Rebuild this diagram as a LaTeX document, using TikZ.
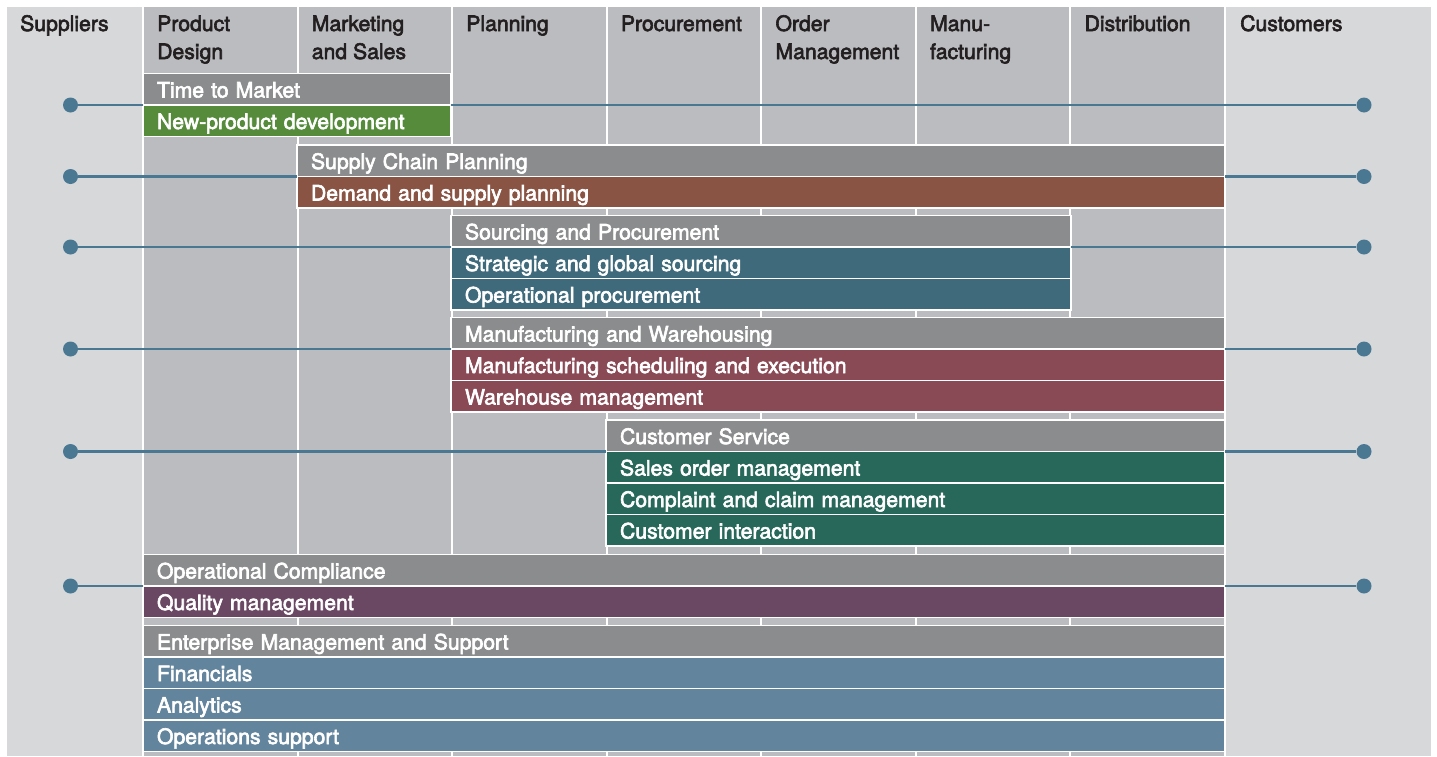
\documentclass[tikz,border=0pt]{standalone}
\usepackage{fontspec}
\setmainfont{TeX Gyre Heros}
\definecolor{lightbg}{HTML}{D7D8DA}
\definecolor{colbg}{HTML}{BBBCBF}
\definecolor{titlegray}{HTML}{8B8C8E}
\definecolor{cgreen}{HTML}{568B3C}
\definecolor{cbrown}{HTML}{8A5444}
\definecolor{cteal}{HTML}{3E6A7B}
\definecolor{cmauve}{HTML}{8A4A55}
\definecolor{cdgreen}{HTML}{27685A}
\definecolor{cpurple}{HTML}{6A4762}
\definecolor{csteel}{HTML}{62849C}
\definecolor{cline}{HTML}{4A7893}
\definecolor{htext}{HTML}{231F20}
\newcommand\hdtab[1]{\begin{tabular}[t]{@{}l@{}}#1\end{tabular}}
\newcommand\heavyon{\special{pdf:literal direct 2 Tr 0.6 w}}
\newcommand\heavyoff{\special{pdf:literal direct 0 Tr}}
\begin{document}
\begin{tikzpicture}[x=1pt,y=-1pt,
  every node/.style={font=\fontsize{21.2}{28}\selectfont,
    execute at begin node=\heavyon, execute at end node=\heavyoff},
  hdr/.style={anchor=base west, inner sep=0pt, text=htext},
  bar/.style={anchor=north west, minimum height=31.5pt, inner xsep=14pt, inner ysep=0pt,
    outer sep=0pt, draw=white, line width=1.5pt, text=white, text height=16.5pt,
    text depth=0pt, align=left},
  ttl/.style={bar, fill=titlegray},
  dot/.style={circle, fill=cline, inner sep=0pt, minimum size=15pt},
  conn/.style={draw=cline, line width=2.6pt}]
\useasboundingbox (0,0) rectangle (1437,756);
\fill[white] (0,0) rectangle (1437,756);
\fill[lightbg] (7,7) rectangle (1431,756);
\fill[colbg] (143,7) rectangle (1225,756);
\foreach \i in {0,...,7} \draw[white, line width=2pt] ({143+154.57*\i},7) -- ++(0,749);
% headers
\node[hdr] (hsup) at (20,31) {Suppliers};
\node[hdr] (hpd) at (157,31) {\hdtab{Product\\Design}};
\node[hdr] (hms) at (311.6,31) {\hdtab{Marketing\\and Sales}};
\node[hdr] (hpl) at (466.1,31) {Planning};
\node[hdr] (hpr) at (620.7,31) {Procurement};
\node[hdr] (hom) at (775.3,31) {\hdtab{Order\\Management}};
\node[hdr] (hmf) at (929.9,31) {\hdtab{Manu-\\facturing}};
\node[hdr] (hdi) at (1084.4,31) {Distribution};
\node[hdr] (hcu) at (1240,31) {Customers};
% group 1
\node[ttl, text width=280pt] (tm) at (143,73.5) {Time to Market};
\node[bar, fill=cgreen, text width=280pt] (npd) at (143,105) {New-product development};
% group 2
\node[ttl, text width=900pt] (scp) at (297,145) {Supply Chain Planning};
\node[bar, fill=cbrown, text width=900pt] (dsp) at (297,176.5) {Demand and supply planning};
% group 3
\node[ttl, text width=592pt] (sp) at (451,215.5) {Sourcing and Procurement};
\node[bar, fill=cteal, text width=592pt] (sgs) at (451,247) {Strategic and global sourcing};
\node[bar, fill=cteal, text width=592pt] (op) at (451,278.5) {Operational procurement};
% group 4
\node[ttl, text width=746pt] (mw) at (451,317.5) {Manufacturing and Warehousing};
\node[bar, fill=cmauve, text width=746pt] (mse) at (451,349) {Manufacturing scheduling and execution};
\node[bar, fill=cmauve, text width=746pt] (wm) at (451,380.5) {Warehouse management};
% group 5
\node[ttl, text width=591pt] (cs) at (606,420) {Customer Service};
\node[bar, fill=cdgreen, text width=591pt] (som) at (606,451.5) {Sales order management};
\node[bar, fill=cdgreen, text width=591pt] (ccm) at (606,483) {Complaint and claim management};
\node[bar, fill=cdgreen, text width=591pt] (ci) at (606,514.5) {Customer interaction};
% group 6
\node[ttl, text width=1054pt] (oc) at (143,554.5) {Operational Compliance};
\node[bar, fill=cpurple, text width=1054pt] (qm) at (143,586) {Quality management};
% group 7
\node[ttl, text width=1054pt] (ems) at (143,625.5) {Enterprise Management and Support};
\node[bar, fill=csteel, text width=1054pt] (fin) at (143,657) {Financials};
\node[bar, fill=csteel, text width=1054pt] (ana) at (143,688.5) {Analytics};
\node[bar, fill=csteel, text width=1054pt] (ops) at (143,720) {Operations support};
% dots and connectors
\foreach \n/\y/\t in {1/105/tm, 2/176.5/scp, 3/247/sp, 4/349/mw, 5/451.5/cs, 6/586/oc}{
  \node[dot] (l\n) at (70.5,\y) {};
  \node[dot] (r\n) at (1364,\y) {};
  \draw[conn] (l\n) -- (\t.south west);
  \draw[conn] (\t.south east) -- (r\n);
}
\end{tikzpicture}
\end{document}
